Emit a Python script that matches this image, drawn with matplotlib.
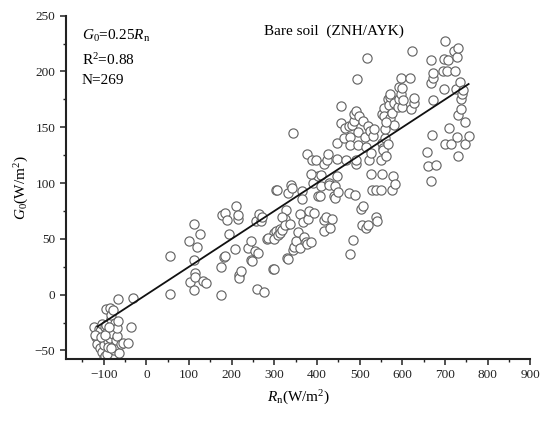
import matplotlib
matplotlib.use("Agg")
import matplotlib.pyplot as plt
from matplotlib.ticker import MultipleLocator
import numpy as np

plt.rcParams['font.family'] = ['Liberation Serif', 'DejaVu Serif']
plt.rcParams['mathtext.fontset'] = 'custom'
plt.rcParams['mathtext.rm'] = 'Liberation Serif'
plt.rcParams['mathtext.it'] = 'Liberation Serif:italic'

# Net radiation Rn (W/m2) and soil heat flux G0 (W/m2)
rn_cluster = [-122, -117, -115, -112, -109, -109, -105, -103, -101, -100, -100, -97, -96, -94, -94, -94,
              -93, -91, -90, -88, -86, -86, -84, -82, -80, -78, -78, -76, -74, -74, -72, -70, -68, -66,
              -66, -63, -60, -55, -43, -35, -32, -120, -106, -98, -88, -84]
g0_cluster = [-29, -38, -44, -31, -33, -48, -26, -51, -40, -45, -57, -29, -55, -13, -27, -34,
              -53, -42, -47, -38, -12, -39, -22, -18, -31, -14, -35, -50, -25, -45, -41, -37, -30, -24,
              -4, -52, -44, -43, -43, -29, -3, -36, -38, -36, -29, -48]

rn_low = [56, 56, 100, 103, 111, 111, 112, 115, 115, 119, 126, 133, 140, 174, 175, 178, 181, 184, 185,
          190, 194, 207, 209, 214, 215, 217, 217, 221, 239, 244, 246, 247, 254, 258, 260, 262, 265, 269,
          270, 275, 283, 296, 300, 304, 312, 326, 324, 328]
g0_low = [35, 1, 48, 11, 63, 31, 4, 19, 16, 43, 54, 12, 10, 25, 0, 71, 34, 35, 73,
          67, 54, 41, 79, 68, 71, 18, 15, 21, 42, 48, 31, 30, 39, 66, 5, 37, 72, 66,
          70, 2, 50, 23, 55, 57, 59, 62, 68, 76]

rn_mid = [285, 298, 300, 303, 307, 308, 313, 318, 318, 325, 329, 331, 333, 336, 340, 342, 343, 346, 350,
          355, 360, 360, 365, 365, 367, 370, 373, 376, 378, 380, 386, 390, 393, 401, 401, 406, 410, 410,
          416, 416, 420, 429, 429, 430, 436, 440, 441, 441, 447, 449, 474, 478, 485, 488, 503, 505, 508,
          514, 520, 527, 528, 538, 539, 540, 550, 553, 575, 578, 582]
g0_mid = [51, 50, 23, 94, 94, 53, 55, 58, 70, 62, 33, 91, 32, 63, 98, 96, 40, 43, 48,
          56, 72, 42, 93, 86, 65, 52, 47, 45, 68, 75, 47, 100, 73, 106, 88, 88, 107, 97,
          67, 57, 70, 100, 98, 60, 68, 88, 97, 87, 106, 92, 91, 36, 49, 89, 77, 62, 79,
          60, 62, 108, 94, 94, 70, 66, 94, 108, 94, 106, 99]

rn_upmid = [343, 376, 385, 388, 398, 416, 424, 426, 446, 447, 455, 457, 462, 466, 468, 474, 476, 476,
            482, 486, 486, 490, 490, 492, 494, 496, 496, 498, 508, 513, 514, 518, 520, 521, 523, 527,
            531, 533, 552, 553, 555, 557, 557, 566, 568, 570, 572, 572, 580]
g0_upmid = [145, 126, 108, 121, 121, 117, 121, 126, 122, 136, 169, 154, 140, 149, 121, 151, 141, 134,
            152, 156, 162, 117, 121, 165, 193, 146, 134, 160, 156, 141, 132, 212, 151, 121, 147, 127,
            142, 148, 136, 162, 131, 167, 160, 175, 170, 177, 158, 180, 152]

rn_high = [549, 555, 561, 560, 565, 558, 562, 575, 580, 590, 591, 593, 596, 596, 599, 600, 602, 617,
           621, 623, 626, 626, 658, 660, 666, 666, 666, 669, 671, 671, 671, 678, 697, 697, 699, 695,
           700, 704, 706, 710, 714, 720, 722, 725, 727, 728, 730, 730, 730, 734, 738, 738, 740, 743,
           746, 747, 756]
g0_high = [121, 130, 124, 140, 135, 148, 155, 163, 172, 168, 186, 175, 180, 194, 185, 168, 174, 194,
           166, 218, 172, 176, 128, 115, 102, 190, 210, 143, 174, 194, 199, 116, 184, 211, 227, 200,
           135, 200, 210, 149, 135, 218, 200, 184, 141, 213, 124, 161, 221, 191, 166, 175, 180, 183,
           135, 155, 142]

rn = rn_cluster + rn_low + rn_mid + rn_upmid + rn_high
g0 = g0_cluster + g0_low + g0_mid + g0_upmid + g0_high

fit_slope = 0.25
fit_range = [-115, 755]

x_ticks = [-100, 0, 100, 200, 300, 400, 500, 600, 700, 800, 900]
y_ticks = [-50, 0, 50, 100, 150, 200, 250]

fig = plt.figure(figsize=(5.5, 4.24), dpi=100)
ax = fig.add_axes([0.1195, 0.1533, 0.845, 0.8097])

ax.scatter(rn, g0, s=44, facecolors='white', edgecolors='#666666', linewidths=0.85, zorder=2)
fx = np.array(fit_range, dtype=float)
ax.plot(fx, fit_slope * fx, color='#111111', lw=1.3, zorder=3)

ax.set_xlim(-189, 900)
ax.set_ylim(-57.7, 250)
ax.set_xticks(x_ticks)
ax.set_yticks(y_ticks)
ax.xaxis.set_minor_locator(MultipleLocator(50))
ax.yaxis.set_minor_locator(MultipleLocator(25))

for s in ['top', 'right']:
    ax.spines[s].set_visible(False)
for s in ['left', 'bottom']:
    ax.spines[s].set_linewidth(1.5)
    ax.spines[s].set_color('#222222')

ax.tick_params(which='major', direction='out', length=4.5, width=1.1, labelsize=9.5, colors='#222222', pad=3)
ax.tick_params(which='minor', direction='out', length=2.5, width=1.0, colors='#222222')

ax.set_xlabel(r'$R_{\mathrm{n}}$(W/m$^{2}$)', fontsize=11, labelpad=5)
ax.set_ylabel(r'$G_{0}$(W/m$^{2}$)', fontsize=11, labelpad=3)

ax.text(0.035, 0.965, r'$G_{0}$=0.25$R_{\mathrm{n}}$', transform=ax.transAxes, fontsize=11, va='top', ha='left')
ax.text(0.035, 0.895, r'R$^{2}$=0.88', transform=ax.transAxes, fontsize=11, va='top', ha='left')
ax.text(0.035, 0.83, 'N=269', transform=ax.transAxes, fontsize=11, va='top', ha='left')
ax.text(0.578, 0.975, 'Bare soil  (ZNH/AYK)', transform=ax.transAxes, fontsize=11, va='top', ha='center')

fig.savefig('out.png', dpi=100)
